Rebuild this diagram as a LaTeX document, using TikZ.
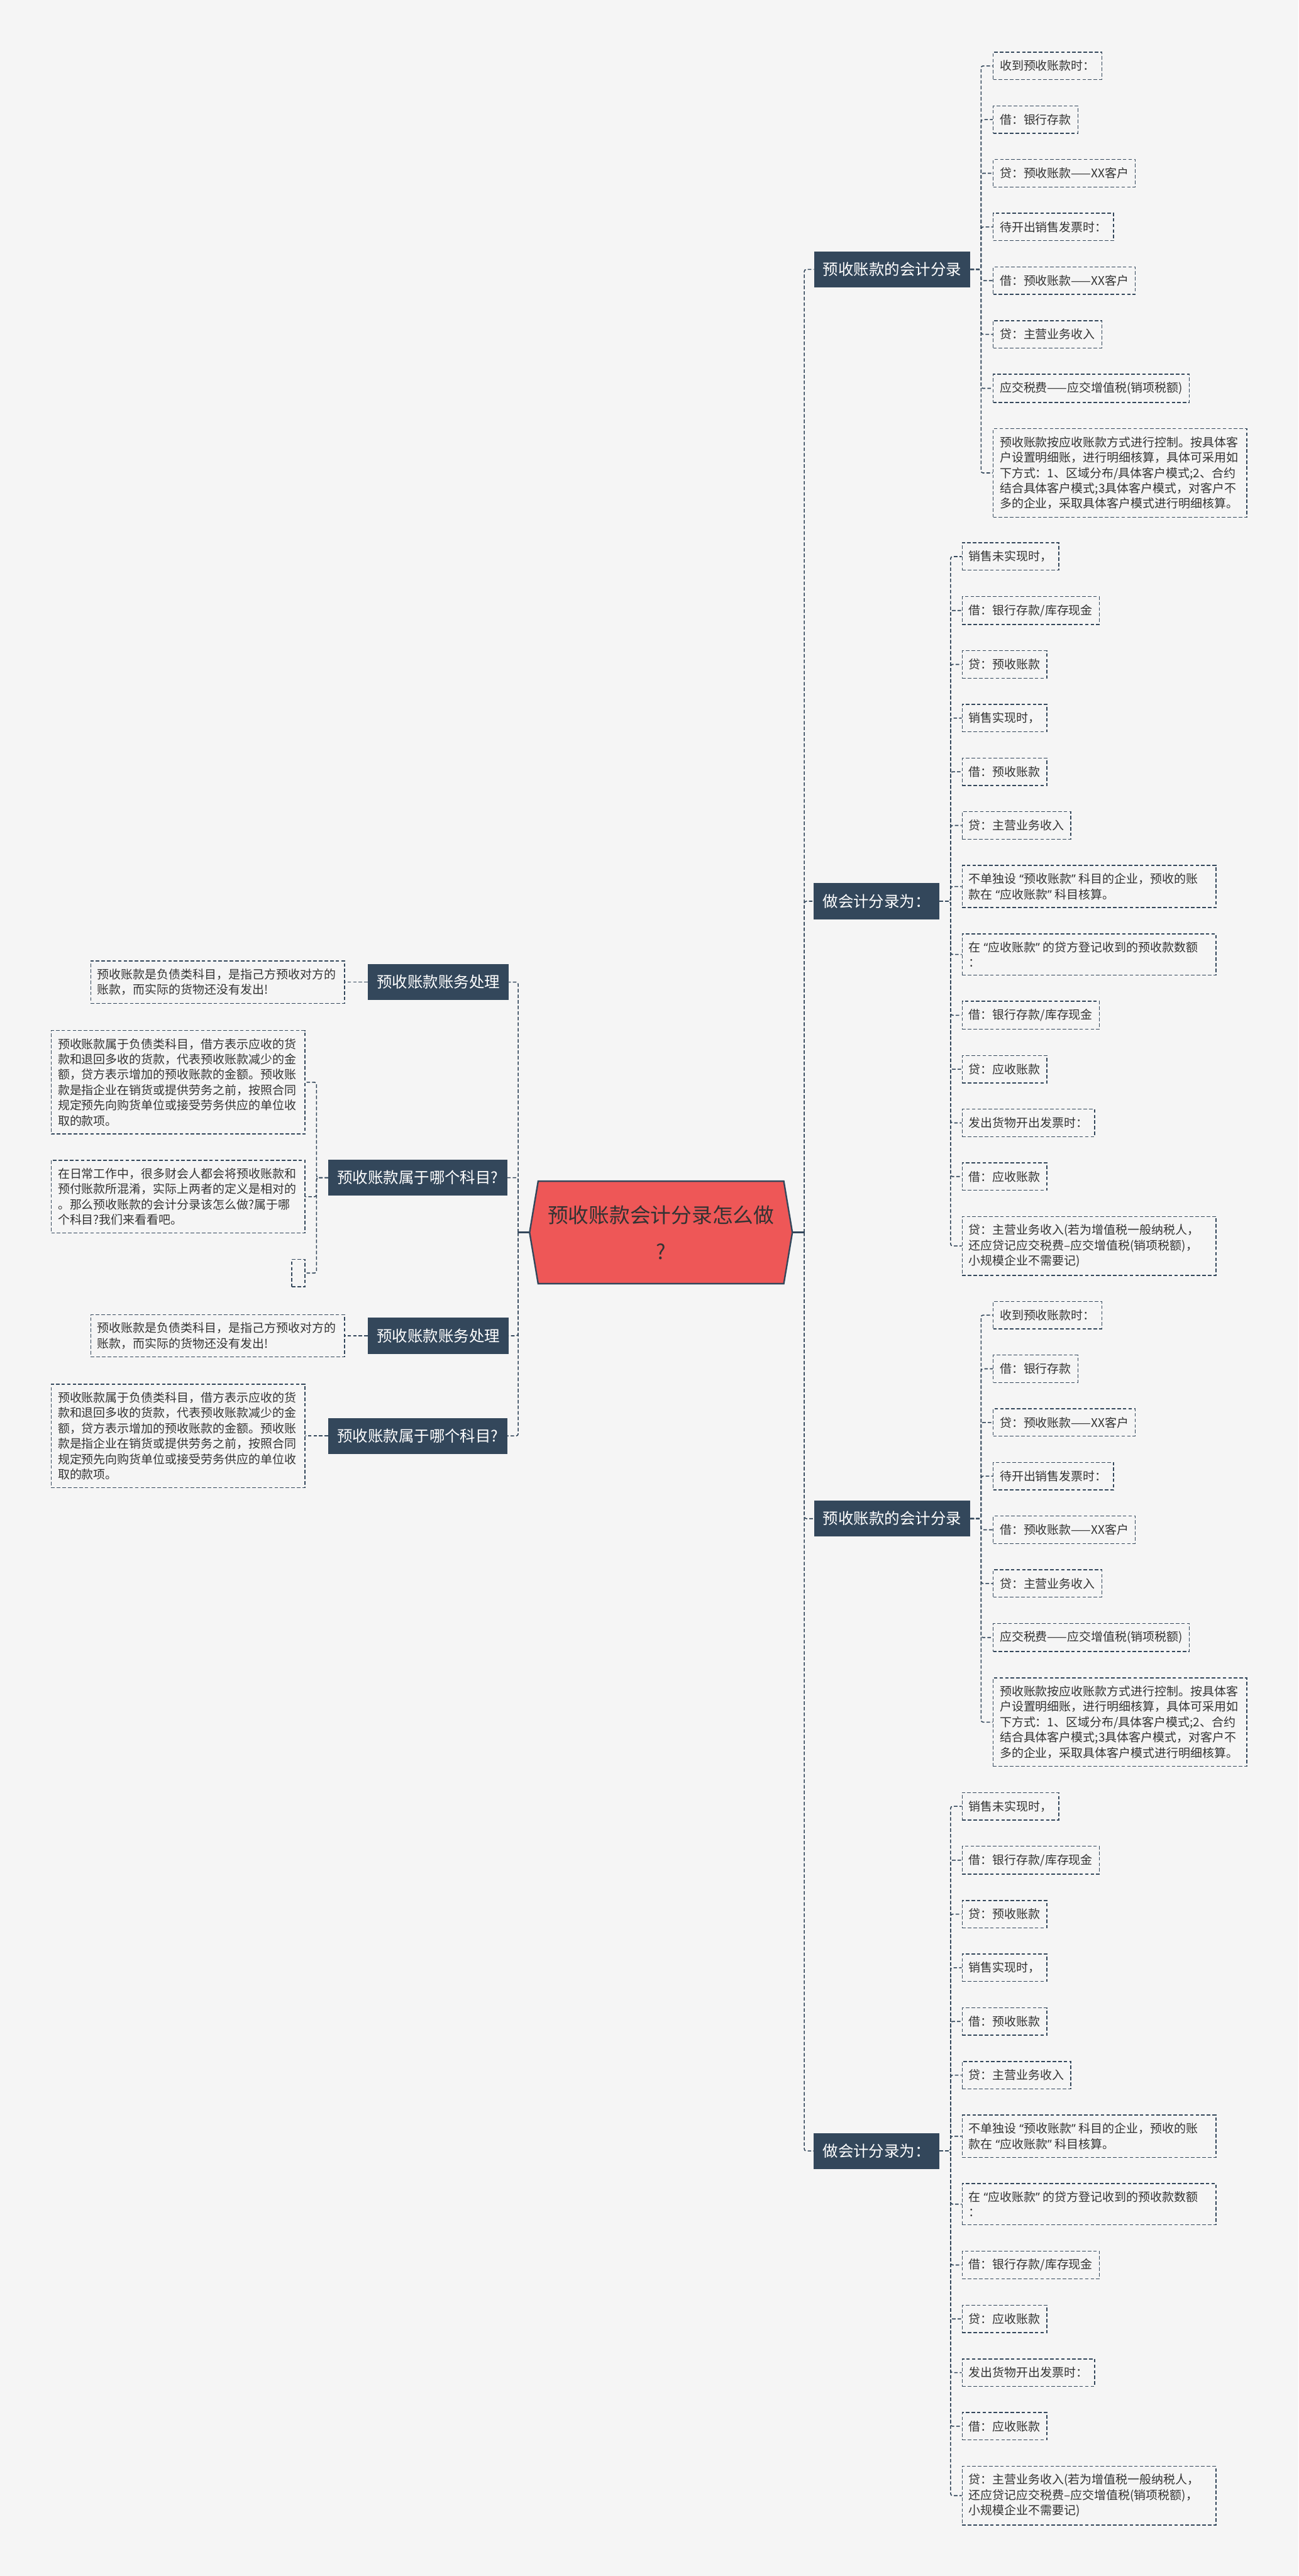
\documentclass[tikz,border=0pt]{standalone}
\usepackage{fontspec}
\setmainfont{Noto Sans CJK SC}
\newfontfamily\quotefont{Noto Sans}
\newcommand{\qopen}{\hspace{0.25em}{\quotefont “}}
\newcommand{\qclose}{{\quotefont ”}\hspace{0.25em}}
\usetikzlibrary{calc,positioning,shapes.symbols}
\definecolor{navy}{HTML}{33475B}
\definecolor{rootred}{HTML}{EE5757}
\definecolor{paper}{HTML}{F5F5F5}
\definecolor{ink}{HTML}{333333}

\begin{document}
\begin{tikzpicture}[
  leaf/.style={draw=navy,dash pattern=on 3.5pt off 2pt,line width=0.9pt,text=ink,align=left,inner xsep=6.5pt,inner ysep=7.7pt,minimum height=27pt,font=\fontsize{11.75}{15.15}\selectfont},
  wide/.style={text width=237pt},
  branch/.style={fill=navy,text=white,inner xsep=8.75pt,minimum height=35.5pt,font=\fontsize{15.15}{18}\selectfont},
  rootnode/.style={signal,signal to=west and east,signal pointer angle=161,fill=rootred,draw=navy,line width=1.5pt,text=ink,align=center,minimum width=259pt,minimum height=101pt,font=\fontsize{20.3}{36}\selectfont},
  link/.style={draw=navy,line width=1pt,dash pattern=on 3.5pt off 2pt,rounded corners=2pt},
  rootlink/.style={draw=navy,line width=1.5pt}]
  \fill[paper] (0,0) rectangle (1280pt,-2538.5pt);
  \useasboundingbox (0,0) rectangle (1280pt,-2538.5pt);

  \node[rootnode] (root) at (651.5pt,-1214.5pt) {预收账款会计分录怎么做\\?};

  % right side, first group
  \node[leaf,anchor=north west] (a1) at (978.5pt,-51pt) {收到预收账款时：};
  \node[leaf,below right=25pt and 0pt of a1.south west] (a2) {借：银行存款};
  \node[leaf,below right=25pt and 0pt of a2.south west] (a3) {贷：预收账款——XX客户};
  \node[leaf,below right=25pt and 0pt of a3.south west] (a4) {待开出销售发票时：};
  \node[leaf,below right=25pt and 0pt of a4.south west] (a5) {借：预收账款——XX客户};
  \node[leaf,below right=25pt and 0pt of a5.south west] (a6) {贷：主营业务收入};
  \node[leaf,below right=25pt and 0pt of a6.south west] (a7) {应交税费——应交增值税(销项税额)};
  \node[leaf,wide,below right=25pt and 0pt of a7.south west] (a8) {预收账款按应收账款方式进行控制。按具体客\\户设置明细账，进行明细核算，具体可采用如\\下方式：1、区域分布/具体客户模式;2、合约\\结合具体客户模式;3具体客户模式，对客户不\\多的企业，采取具体客户模式进行明细核算。};
  \coordinate (ma) at ($(a1.west)!0.5!(a8.west)$);
  \node[branch,left=22pt of ma] (ba) {预收账款的会计分录};

  % right side, second group
  \node[leaf,anchor=north west] (b1) at (948pt,-534.5pt) {销售未实现时，};
  \node[leaf,below right=25pt and 0pt of b1.south west] (b2) {借：银行存款/库存现金};
  \node[leaf,below right=25pt and 0pt of b2.south west] (b3) {贷：预收账款};
  \node[leaf,below right=25pt and 0pt of b3.south west] (b4) {销售实现时，};
  \node[leaf,below right=25pt and 0pt of b4.south west] (b5) {借：预收账款};
  \node[leaf,below right=25pt and 0pt of b5.south west] (b6) {贷：主营业务收入};
  \node[leaf,wide,below right=25pt and 0pt of b6.south west] (b7) {不单独设\qopen 预收账款\qclose 科目的企业，预收的账\\款在\qopen 应收账款\qclose 科目核算。};
  \node[leaf,wide,below right=25pt and 0pt of b7.south west] (b8) {在\qopen 应收账款\qclose 的贷方登记收到的预收款数额\\：};
  \node[leaf,below right=25pt and 0pt of b8.south west] (b9) {借：银行存款/库存现金};
  \node[leaf,below right=25pt and 0pt of b9.south west] (b10) {贷：应收账款};
  \node[leaf,below right=25pt and 0pt of b10.south west] (b11) {发出货物开出发票时：};
  \node[leaf,below right=25pt and 0pt of b11.south west] (b12) {借：应收账款};
  \node[leaf,wide,below right=25pt and 0pt of b12.south west] (b13) {贷：主营业务收入(若为增值税一般纳税人，\\还应贷记应交税费--应交增值税(销项税额)，\\小规模企业不需要记)};
  \coordinate (mb) at ($(b1.west)!0.5!(b13.west)$);
  \node[branch,left=22pt of mb] (bb) {做会计分录为：};

  % right side, third group
  \node[leaf,anchor=north west] (c1) at (978.5pt,-1282pt) {收到预收账款时：};
  \node[leaf,below right=25pt and 0pt of c1.south west] (c2) {借：银行存款};
  \node[leaf,below right=25pt and 0pt of c2.south west] (c3) {贷：预收账款——XX客户};
  \node[leaf,below right=25pt and 0pt of c3.south west] (c4) {待开出销售发票时：};
  \node[leaf,below right=25pt and 0pt of c4.south west] (c5) {借：预收账款——XX客户};
  \node[leaf,below right=25pt and 0pt of c5.south west] (c6) {贷：主营业务收入};
  \node[leaf,below right=25pt and 0pt of c6.south west] (c7) {应交税费——应交增值税(销项税额)};
  \node[leaf,wide,below right=25pt and 0pt of c7.south west] (c8) {预收账款按应收账款方式进行控制。按具体客\\户设置明细账，进行明细核算，具体可采用如\\下方式：1、区域分布/具体客户模式;2、合约\\结合具体客户模式;3具体客户模式，对客户不\\多的企业，采取具体客户模式进行明细核算。};
  \coordinate (mc) at ($(c1.west)!0.5!(c8.west)$);
  \node[branch,left=22pt of mc] (bc) {预收账款的会计分录};

  % right side, fourth group
  \node[leaf,anchor=north west] (d1) at (948pt,-1766pt) {销售未实现时，};
  \node[leaf,below right=25pt and 0pt of d1.south west] (d2) {借：银行存款/库存现金};
  \node[leaf,below right=25pt and 0pt of d2.south west] (d3) {贷：预收账款};
  \node[leaf,below right=25pt and 0pt of d3.south west] (d4) {销售实现时，};
  \node[leaf,below right=25pt and 0pt of d4.south west] (d5) {借：预收账款};
  \node[leaf,below right=25pt and 0pt of d5.south west] (d6) {贷：主营业务收入};
  \node[leaf,wide,below right=25pt and 0pt of d6.south west] (d7) {不单独设\qopen 预收账款\qclose 科目的企业，预收的账\\款在\qopen 应收账款\qclose 科目核算。};
  \node[leaf,wide,below right=25pt and 0pt of d7.south west] (d8) {在\qopen 应收账款\qclose 的贷方登记收到的预收款数额\\：};
  \node[leaf,below right=25pt and 0pt of d8.south west] (d9) {借：银行存款/库存现金};
  \node[leaf,below right=25pt and 0pt of d9.south west] (d10) {贷：应收账款};
  \node[leaf,below right=25pt and 0pt of d10.south west] (d11) {发出货物开出发票时：};
  \node[leaf,below right=25pt and 0pt of d11.south west] (d12) {借：应收账款};
  \node[leaf,wide,below right=25pt and 0pt of d12.south west] (d13) {贷：主营业务收入(若为增值税一般纳税人，\\还应贷记应交税费--应交增值税(销项税额)，\\小规模企业不需要记)};
  \coordinate (md) at ($(d1.west)!0.5!(d13.west)$);
  \node[branch,left=22pt of md] (bd) {做会计分录为：};

  % left side
  \node[leaf,wide,anchor=north east] (e1) at (340pt,-946.5pt) {预收账款是负债类科目，是指己方预收对方的\\账款，而实际的货物还没有发出!};
  \node[branch,right=22.5pt of e1.east] (la) {预收账款账务处理};

  \node[leaf,wide,anchor=north east] (f1) at (301pt,-1015pt) {预收账款属于负债类科目，借方表示应收的货\\款和退回多收的货款，代表预收账款减少的金\\额，贷方表示增加的预收账款的金额。预收账\\款是指企业在销货或提供劳务之前，按照合同\\规定预先向购货单位或接受劳务供应的单位收\\取的款项。};
  \node[leaf,wide,below left=25pt and 0pt of f1.south east] (f2) {在日常工作中，很多财会人都会将预收账款和\\预付账款所混淆，实际上两者的定义是相对的\\。那么预收账款的会计分录该怎么做?属于哪\\个科目?我们来看看吧。};
  \node[leaf,minimum width=12pt,below left=25pt and 0pt of f2.south east] (f3) {};
  \coordinate (mf) at ($(f1.east)!0.5!(f3.east)$);
  \node[branch,right=22.5pt of mf] (lb) {预收账款属于哪个科目?};

  \node[leaf,wide,anchor=north east] (g1) at (340pt,-1295pt) {预收账款是负债类科目，是指己方预收对方的\\账款，而实际的货物还没有发出!};
  \node[branch,right=22.5pt of g1.east] (lc) {预收账款账务处理};

  \node[leaf,wide,anchor=north east] (h1) at (301pt,-1363.5pt) {预收账款属于负债类科目，借方表示应收的货\\款和退回多收的货款，代表预收账款减少的金\\额，贷方表示增加的预收账款的金额。预收账\\款是指企业在销货或提供劳务之前，按照合同\\规定预先向购货单位或接受劳务供应的单位收\\取的款项。};
  \node[branch,right=22.5pt of h1.east] (ld) {预收账款属于哪个科目?};

  % connectors
  \draw[rootlink] (root.east) -- ++(11pt,0) coordinate (rbus);
  \draw[rootlink] (root.west) -- ++(-10.5pt,0) coordinate (lbus);
  \foreach \b in {ba,bb,bc,bd} \draw[link] (rbus) |- (\b.west);
  \foreach \b in {la,lb,lc,ld} \draw[link] (lbus) |- (\b.east);
  \foreach \i in {1,...,8} \draw[link] (ba.east) -- ++(10.5pt,0) |- (a\i.west);
  \foreach \i in {1,...,13} \draw[link] (bb.east) -- ++(11pt,0) |- (b\i.west);
  \foreach \i in {1,...,8} \draw[link] (bc.east) -- ++(10.5pt,0) |- (c\i.west);
  \foreach \i in {1,...,13} \draw[link] (bd.east) -- ++(11pt,0) |- (d\i.west);
  \draw[link] (la.west) -- (e1.east);
  \foreach \i in {1,2,3} \draw[link] (lb.west) -- ++(-11.5pt,0) |- (f\i.east);
  \draw[link] (lc.west) -- (g1.east);
  \draw[link] (ld.west) -- (h1.east);
\end{tikzpicture}
\end{document}
